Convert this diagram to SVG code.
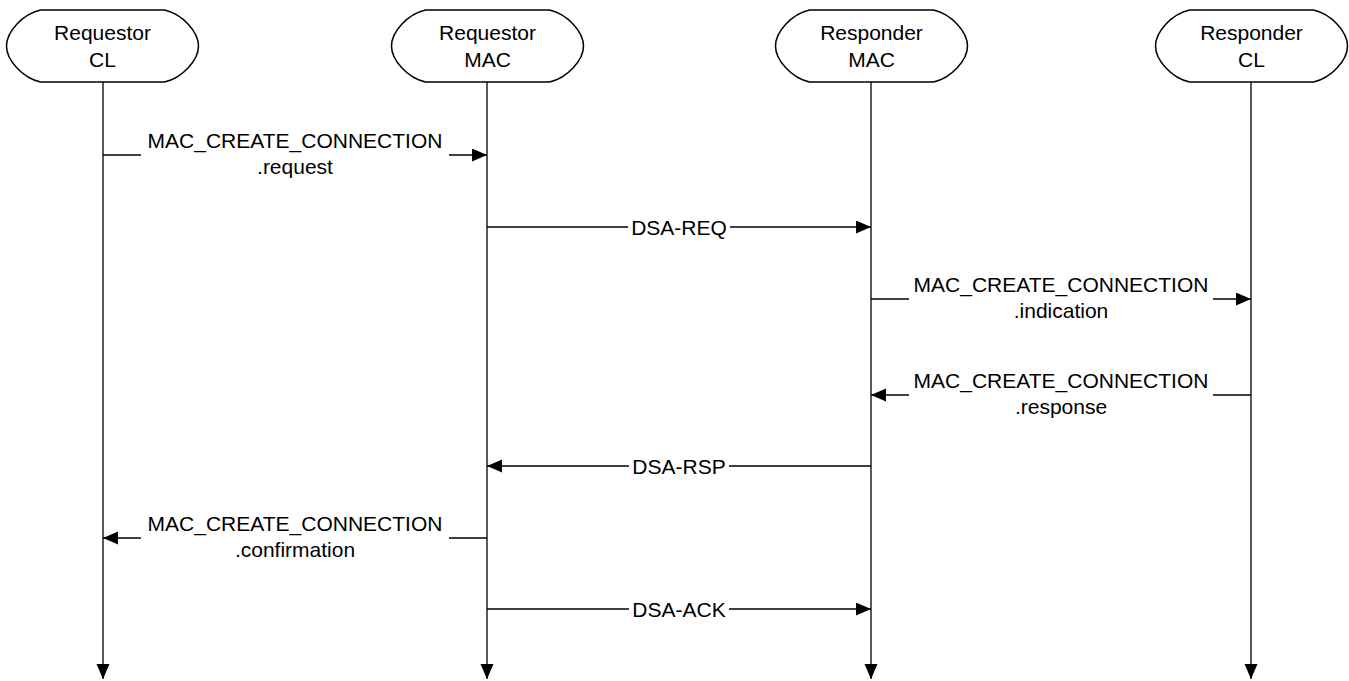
<svg xmlns="http://www.w3.org/2000/svg" width="1349" height="681" viewBox="0 0 1349 681">
<defs>
<marker id="ah" markerUnits="userSpaceOnUse" markerWidth="16" markerHeight="14" refX="15" refY="6.5" orient="auto">
<path d="M0,0 L15,6.5 L0,13 Z" fill="#000"/>
</marker>
<path id="term" d="M-62,-36 H62 C80,-32 96,-14 96,0 C96,14 80,32 62,36 H-62 C-80,32 -96,14 -96,0 C-96,-14 -80,-32 -62,-36 Z"/>
</defs>
<style>
.t{font-family:"Liberation Sans",Arial,sans-serif;font-size:21px;fill:#000;text-anchor:middle}
.n{fill:#fff;stroke:#000;stroke-width:1.5}
.l{stroke:#000;stroke-width:1.3;fill:none}
.a{stroke:#000;stroke-width:1.3;fill:none;marker-end:url(#ah)}
</style>
<rect width="1349" height="681" fill="#fff"/>
<g id="lifelines">
<line class="a" x1="103" y1="82" x2="103" y2="679"/>
<line class="a" x1="487" y1="82" x2="487" y2="679"/>
<line class="a" x1="871" y1="82" x2="871" y2="679"/>
<line class="a" x1="1251" y1="82" x2="1251" y2="679"/>
</g>
<g id="node-requestor-cl">
<use href="#term" class="n" x="102.5" y="46"/>
<text class="t" x="102.5" y="40">Requestor</text>
<text class="t" x="102.5" y="67">CL</text>
</g>
<g id="node-requestor-mac">
<use href="#term" class="n" x="487.5" y="46"/>
<text class="t" x="487.5" y="40">Requestor</text>
<text class="t" x="487.5" y="67">MAC</text>
</g>
<g id="node-responder-mac">
<use href="#term" class="n" x="871.5" y="46"/>
<text class="t" x="871.5" y="40">Responder</text>
<text class="t" x="871.5" y="67">MAC</text>
</g>
<g id="node-responder-cl">
<use href="#term" class="n" x="1251.5" y="46"/>
<text class="t" x="1251.5" y="40">Responder</text>
<text class="t" x="1251.5" y="67">CL</text>
</g>
<g id="connectors">
<line class="l" x1="103" y1="155" x2="141" y2="155"/>
<line class="a" x1="449" y1="155" x2="487" y2="155"/>
<text class="t" x="295" y="148">MAC_CREATE_CONNECTION</text>
<text class="t" x="295" y="174">.request</text>

<line class="l" x1="487" y1="227" x2="628" y2="227"/>
<line class="a" x1="730" y1="227" x2="871" y2="227"/>
<text class="t" x="679" y="234.5">DSA-REQ</text>

<line class="l" x1="871" y1="299" x2="909" y2="299"/>
<line class="a" x1="1213" y1="299" x2="1251" y2="299"/>
<text class="t" x="1061" y="292">MAC_CREATE_CONNECTION</text>
<text class="t" x="1061" y="318">.indication</text>

<line class="l" x1="1251" y1="395" x2="1213" y2="395"/>
<line class="a" x1="909" y1="395" x2="871" y2="395"/>
<text class="t" x="1061" y="388">MAC_CREATE_CONNECTION</text>
<text class="t" x="1061" y="414">.response</text>

<line class="l" x1="871" y1="466" x2="729" y2="466"/>
<line class="a" x1="629" y1="466" x2="487" y2="466"/>
<text class="t" x="679" y="473.5">DSA-RSP</text>

<line class="l" x1="487" y1="538" x2="449" y2="538"/>
<line class="a" x1="141" y1="538" x2="103" y2="538"/>
<text class="t" x="295" y="531">MAC_CREATE_CONNECTION</text>
<text class="t" x="295" y="557">.confirmation</text>

<line class="l" x1="487" y1="609" x2="629" y2="609"/>
<line class="a" x1="729" y1="609" x2="871" y2="609"/>
<text class="t" x="679" y="616.5">DSA-ACK</text>
</g>
</svg>
